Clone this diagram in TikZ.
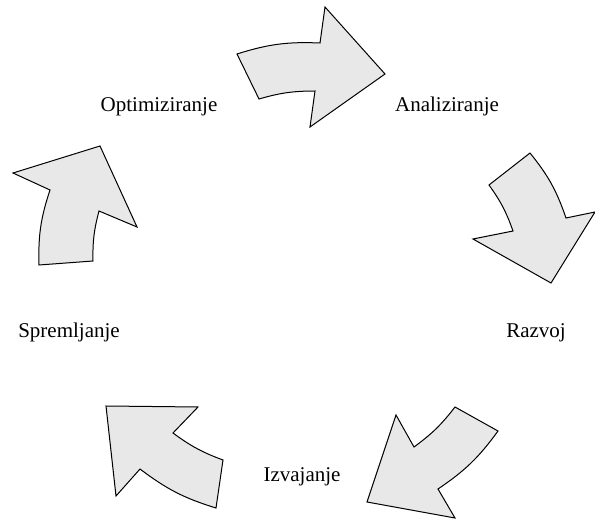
\documentclass[tikz,border=0pt]{standalone}
\usepackage{fontspec}
\setmainfont{Liberation Serif}
\usepackage{tikz}
\definecolor{cyclegray}{RGB}{232,232,232}

\begin{document}
\begin{tikzpicture}[x=1pt,y=-1pt,
    arrowpiece/.style={draw,line width=1pt,fill=cyclegray,line join=miter},
    stage/.style={anchor=base,font=\fontsize{21}{25}\selectfont}]
    \useasboundingbox (0,0) rectangle (595,519);
    % stages
    \node[stage] (ana) at (447,112){Analiziranje};
    \node[stage] (raz) at (536,337){Razvoj};
    \node[stage] (izv) at (302,481){Izvajanje};
    \node[stage] (spr) at (69,337){Spremljanje};
    \node[stage] (opt) at (159,112){Optimiziranje};
    % arrows
    \draw[arrowpiece](237,54) to[bend left=10] (320,43) -- (325,7) -- (385,74) -- (310,127) -- (315,91) to[bend right=8] (259,99) -- cycle;
    \draw[arrowpiece](530,153) to[bend left=10] (566,218) -- (595,212) -- (551,283) -- (473,239) -- (513,231) to[bend right=8] (489,185) -- cycle;
    \draw[arrowpiece](498,431) to[bend left=10] (438,489) -- (455,518) -- (367,502) -- (396,415) -- (414,447) to[bend right=8] (455,407) -- cycle;
    \draw[arrowpiece](216,508) to[bend left=10] (140,469) -- (116,496) -- (106,406) -- (198,407) -- (173,433) to[bend right=8] (223,460) -- cycle;
    \draw[arrowpiece](39,265) to[bend left=10] (50,190) -- (13,173) -- (100,146) -- (137,227) -- (99,211) to[bend right=8] (93,261) -- cycle;
\end{tikzpicture}
\end{document}
